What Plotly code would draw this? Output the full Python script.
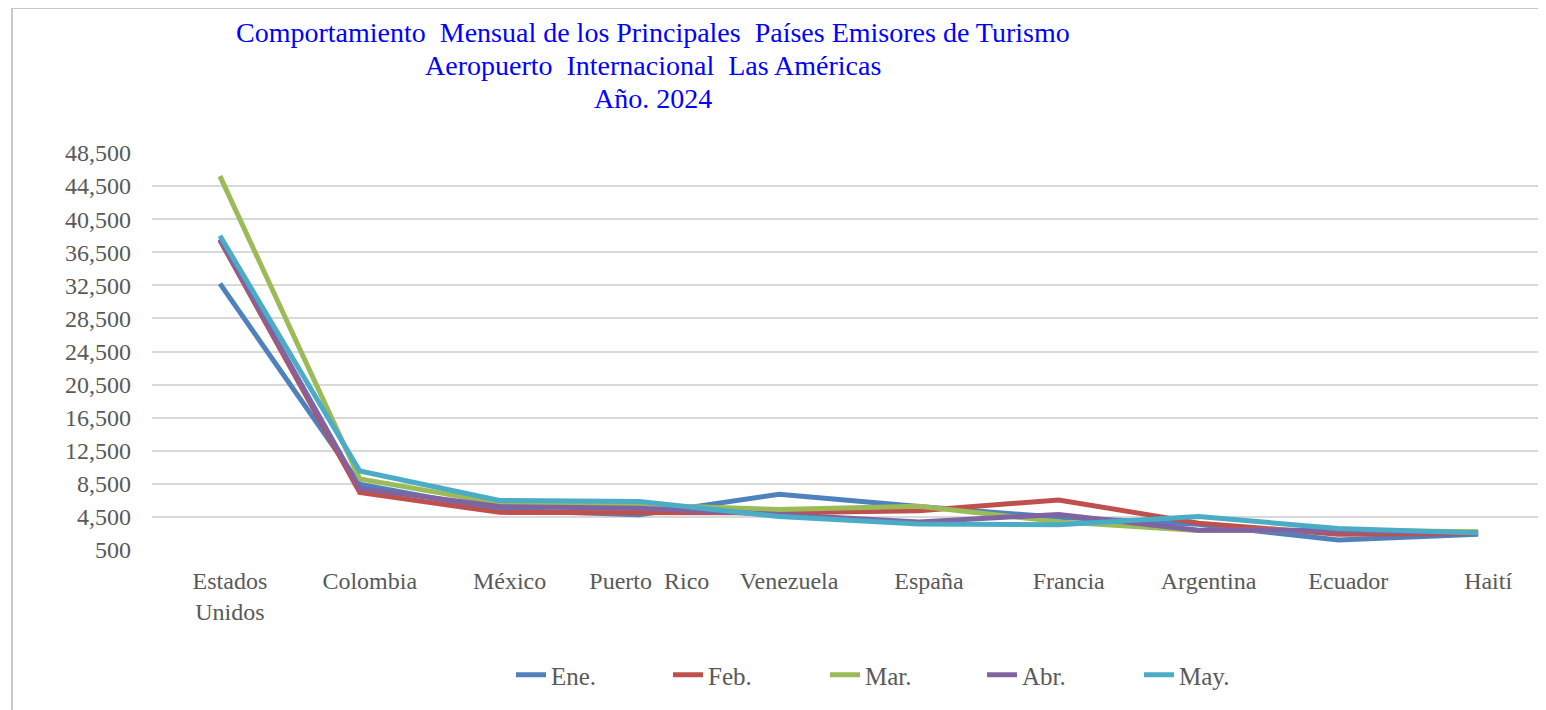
import plotly.graph_objects as go

# Datos
paises = ["Estados<br>Unidos", "Colombia", "México", "Puerto\u00a0\u00a0Rico", "Venezuela",
          "España", "Francia", "Argentina", "Ecuador", "Haití"]

ene = [32700, 8450, 5300, 4750, 7250, 5750, 4450, 3600, 1700, 2400]
feb = [37950, 7450, 5050, 5050, 5000, 5250, 6550, 3750, 2400, 2500]
mar = [45700, 9100, 6150, 5950, 5400, 5800, 3900, 2850, 2900, 2700]
abr = [38100, 7950, 5750, 5550, 4800, 3900, 4800, 2900, 2850, 2550]
may = [38500, 10050, 6500, 6350, 4550, 3650, 3550, 4550, 3100, 2550]

meses = ["Ene.", "Feb.", "Mar.", "Abr.", "May."]
series = [ene, feb, mar, abr, may]
colores = ["#4F81BD", "#C0504D", "#9BBB59", "#8064A2", "#4BACC6"]

titulo = ["Comportamiento\u00a0 Mensual de los Principales\u00a0 Países Emisores de Turismo",
          "Aeropuerto\u00a0 Internacional\u00a0 Las Américas",
          "Año. 2024"]

fuente = "Liberation Serif, Times New Roman, serif"
gris = "#595959"

# la página deja 8 px de margen: se descuentan en tamaño y posiciones
W, H = 1538, 702
L, R, T, B = 144, 3, 145, 160
pw, ph = W - L - R, H - T - B


def px(x):
    return (x - 8 - L) / pw


def py(y):
    return (H - B - (y - 8)) / ph


fig = go.Figure()
for nombre, valores, color in zip(meses, series, colores):
    fig.add_trace(go.Scatter(
        x=list(range(len(paises))), y=valores, mode="lines", name=nombre,
        line=dict(color=color, width=5),
    ))

# Títulos en tres líneas
for i, linea in enumerate(titulo):
    fig.add_annotation(
        text=linea, xref="paper", yref="paper",
        x=px(653), y=py(32 + 33.5 * i),
        xanchor="center", yanchor="middle", showarrow=False,
        font=dict(family=fuente, size=28, color="#0000FF"),
    )

# Marco exterior
fig.add_shape(type="rect", xref="paper", yref="paper",
              x0=px(12), x1=px(1545), y0=py(730), y1=py(8),
              line=dict(color="#c8c8c8", width=2), fillcolor="rgba(0,0,0,0)", layer="below")

fig.update_layout(
    width=W, height=H,
    margin=dict(l=L, r=R, t=T, b=B),
    paper_bgcolor="white", plot_bgcolor="white",
    font=dict(family=fuente, size=24, color=gris),
    showlegend=True,
    legend=dict(orientation="h", x=px(511), xanchor="left",
                y=py(675), yanchor="middle",
                entrywidth=112, font=dict(family=fuente, size=25, color=gris)),
)
fig.update_xaxes(
    tickmode="array", tickvals=list(range(len(paises))), ticktext=paises,
    range=[-0.486, 9.464], showgrid=False, zeroline=False, showline=False,
    ticks="", ticklabelstandoff=14, ticklabelshift=10,
    tickfont=dict(family=fuente, size=24, color=gris),
)
fig.update_yaxes(
    range=[500, 48500], tick0=500, dtick=4000, tickformat=",d",
    showgrid=True, gridcolor="#d9d9d9", gridwidth=2, zeroline=False, showline=False,
    ticks="", ticklabelstandoff=20,
    tickfont=dict(family=fuente, size=24, color=gris),
)

fig.write_html("out.html")
